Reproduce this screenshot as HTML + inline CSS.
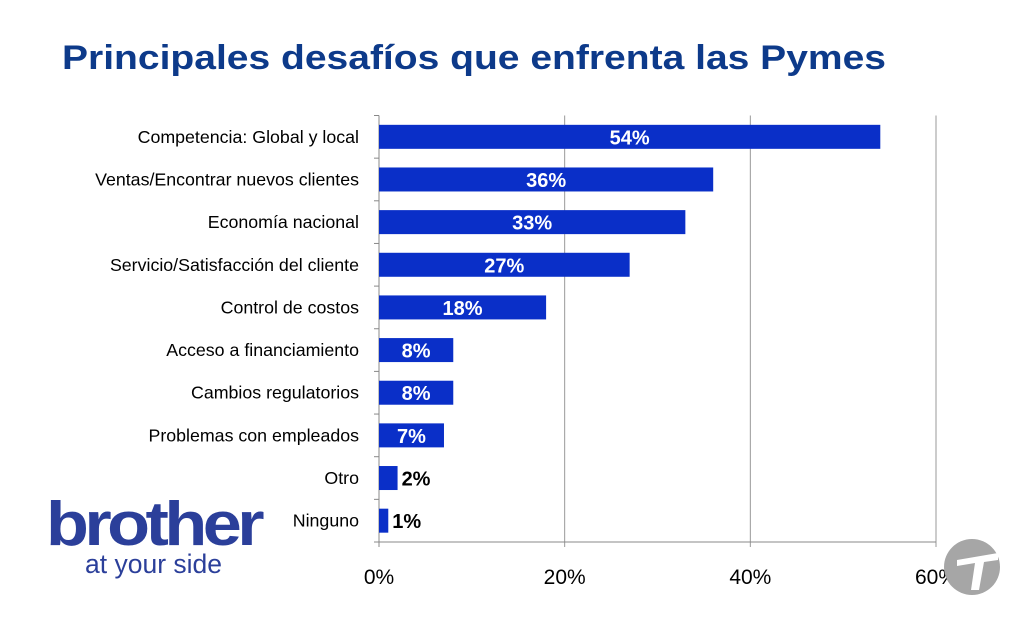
<!DOCTYPE html>
<html><head><meta charset="utf-8"><style>
body{margin:0;background:#fff;}
svg{display:block;}
</style></head><body>
<svg id="chart" width="1024" height="620" xmlns="http://www.w3.org/2000/svg" font-family="Liberation Sans, sans-serif">
<text x="62" y="69" font-size="34" font-weight="bold" fill="#0d3a8a" textLength="824" lengthAdjust="spacingAndGlyphs">Principales desafíos que enfrenta las Pymes</text>
<g id="grid"></g>
<g id="bars"></g>
<g id="ylabels"></g>
<g id="xticks"></g>
<g>
<text x="46" y="545" font-size="62" font-weight="bold" fill="#2b3f9a" letter-spacing="-4" textLength="214" lengthAdjust="spacingAndGlyphs">brother</text>
<text x="85" y="573" font-size="27" fill="#2b3f9a" textLength="137" lengthAdjust="spacingAndGlyphs">at your side</text>
</g>
<g>
<circle cx="972" cy="567" r="28" fill="#a6a6a6"/>
<path d="M957 560 L998 553 L998 560 L984 562 L979 590 L971 590 L975 563 L957 566 Z" fill="#fff"/>
</g>
</svg>
<script>
const categories=["Competencia: Global y local","Ventas/Encontrar nuevos clientes","Economía nacional","Servicio/Satisfacción del cliente","Control de costos","Acceso a financiamiento","Cambios regulatorios","Problemas con empleados","Otro","Ninguno"];
const values=[54,36,33,27,18,8,8,7,2,1];
const ticks=[0,20,40,60];
const NS="http://www.w3.org/2000/svg";
const x0=379,x1=936,top0=115.5,bot=542,xmax=60;
const band=(bot-top0)/categories.length;
const xs=v=>x0+(x1-x0)*v/xmax;
const yc=i=>top0+band*(i+0.5);
function mk(tag,attrs,parent){const e=document.createElementNS(NS,tag);for(const k in attrs)e.setAttribute(k,attrs[k]);parent.appendChild(e);return e;}
const grid=document.getElementById('grid'),bars=document.getElementById('bars'),yl=document.getElementById('ylabels'),xt=document.getElementById('xticks');
ticks.forEach(t=>{
 const l=mk('line',{x1:xs(t),x2:xs(t),y1:top0,y2:bot+5,stroke:t===0?'#888':'#999','stroke-width':1},grid);
 
 
 const tx=mk('text',{x:xs(t),y:584,'font-size':21,'text-anchor':'middle',fill:'#000'},xt);
 tx.textContent=t+'%';
 
 
});
const ax=mk('line',{x1:x0,x2:x1,y1:bot,y2:bot,stroke:'#888'},grid);


for(let i=0;i<=categories.length;i++){
 const tk=mk('line',{x1:x0-5,x2:x0,y1:top0+band*i,y2:top0+band*i,stroke:'#888'},grid);
 
 
}
categories.forEach((c,i)=>{
 const v=values[i],y=yc(i);
 const r=mk('rect',{x:x0,y:y-12,width:xs(v)-x0,height:24,fill:'#0a2fc8'},bars);
 
 
 const inside=v>=5;
 const t=mk('text',{x:inside?(x0+xs(v))/2:xs(v)+4,y:y+7.5,'font-size':20,'font-weight':'bold','text-anchor':inside?'middle':'start',fill:inside?'#fff':'#000'},bars);
 t.textContent=v+'%';
 
 
 const lb=mk('text',{x:359,y:y+6,'font-size':17.8,'text-anchor':'end',fill:'#000'},yl);
 lb.textContent=c;
 
 
});
</script>
</body></html>
